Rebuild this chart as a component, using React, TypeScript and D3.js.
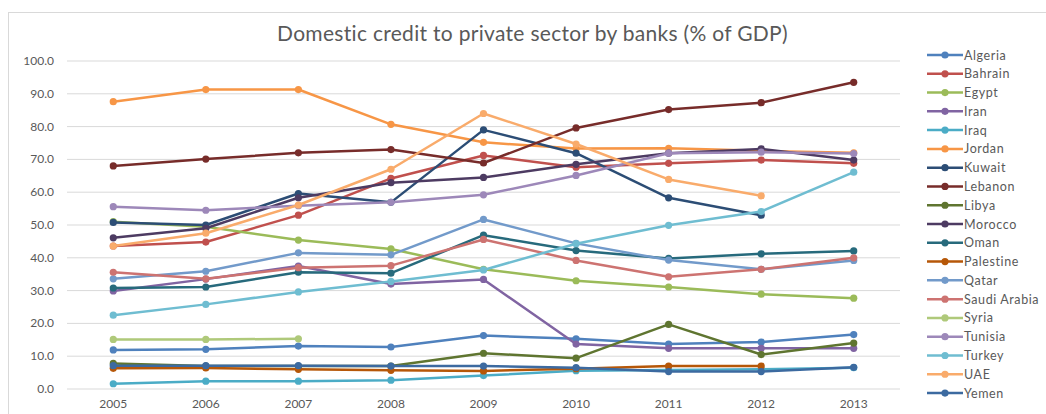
import React from "react";
import * as d3 from "d3";

const years = ["2005", "2006", "2007", "2008", "2009", "2010", "2011", "2012", "2013"];
const yTicks = [0, 10, 20, 30, 40, 50, 60, 70, 80, 90, 100];
const title = "Domestic credit to private sector by banks (% of GDP)";

const countries = ["Algeria", "Bahrain", "Egypt", "Iran", "Iraq", "Jordan", "Kuwait", "Lebanon", "Libya", "Morocco", "Oman", "Palestine", "Qatar", "Saudi Arabia", "Syria", "Tunisia", "Turkey", "UAE", "Yemen"];

const colors = ["#4F81BD", "#C0504D", "#9BBB59", "#8064A2", "#4BACC6", "#F79646", "#2C4D75", "#772C2A", "#5F7530", "#4D3B62", "#276A7C", "#B65708", "#729ACA", "#CD7371", "#AFC97A", "#9D88B9", "#6FBDD1", "#F9AB6B", "#3C6AA0"];

type V = number | null;
const algeria: V[] = [11.9, 12.1, 13.1, 12.8, 16.3, 15.3, 13.7, 14.3, 16.6];
const bahrain: V[] = [43.6, 44.8, 53.0, 64.2, 71.2, 67.6, 68.8, 69.8, 68.8];
const egypt: V[] = [51.0, 49.5, 45.4, 42.7, 36.5, 33.0, 31.1, 28.9, 27.7];
const iran: V[] = [29.9, 33.5, 37.5, 32.0, 33.4, 13.7, 12.4, 12.4, 12.4];
const iraq: V[] = [1.6, 2.4, 2.4, 2.7, 4.1, 5.6, 5.8, 6.0, 6.5];
const jordan: V[] = [87.6, 91.3, 91.3, 80.7, 75.2, 73.3, 73.4, 72.6, 72.0];
const kuwait: V[] = [50.8, 50.0, 59.6, 56.9, 79.0, 71.9, 58.3, 53.0, null];
const lebanon: V[] = [68.0, 70.1, 72.0, 73.0, 68.9, 79.6, 85.2, 87.3, 93.5];
const libya: V[] = [7.8, 7.0, 7.0, 7.0, 10.9, 9.4, 19.7, 10.5, 14.0];
const morocco: V[] = [46.1, 49.0, 58.3, 62.9, 64.5, 68.5, 71.9, 73.2, 69.8];
const oman: V[] = [30.8, 31.1, 35.6, 35.3, 46.9, 42.2, 39.8, 41.2, 42.1];
const palestine: V[] = [6.3, 6.4, 6.0, 5.7, 5.5, 6.2, 7.0, 7.0, null];
const qatar: V[] = [33.6, 35.9, 41.5, 40.9, 51.7, 44.4, 39.3, 36.5, 39.2];
const saudi: V[] = [35.6, 33.6, 37.0, 37.6, 45.6, 39.2, 34.2, 36.5, 40.0];
const syria: V[] = [15.1, 15.1, 15.3, null, null, null, null, null, null];
const tunisia: V[] = [55.6, 54.5, 55.9, 56.9, 59.2, 65.1, 71.9, 72.2, 71.8];
const turkey: V[] = [22.5, 25.8, 29.6, 32.8, 36.3, 44.3, 49.9, 54.1, 66.1];
const uae: V[] = [43.6, 47.5, 56.1, 67.0, 84.0, 74.7, 63.9, 58.9, null];
const yemen: V[] = [7.1, 7.1, 7.1, 7.0, 7.0, 6.5, 5.3, 5.3, 6.6];

const seriesValues: V[][] = [algeria, bahrain, egypt, iran, iraq, jordan, kuwait, lebanon, libya, morocco, oman, palestine, qatar, saudi, syria, tunisia, turkey, uae, yemen];

const W = 1046;
const H = 414;
const plotLeft = 67;
const plotRight = 900;
const plotTop = 61;
const plotBottom = 389;
const font = "Lato, 'Open Sans', sans-serif";
const textColor = "#595959";

export default function App() {
  const x = d3.scaleBand<string>().domain(years).range([plotLeft, plotRight]);
  const cx = (yr: string) => (x(yr) ?? 0) + x.bandwidth() / 2;
  const y = d3.scaleLinear().domain([0, 100]).range([plotBottom, plotTop]);

  const line = d3
    .line<V>()
    .defined((d) => d !== null)
    .x((_, i) => cx(years[i]))
    .y((d) => y(d as number));

  const legendX = 927;
  const legendY0 = 55;
  const legendStep = 18.78;

  return (
    <svg width={W} height={H} style={{ position: "absolute", left: 0, top: 0, background: "#fff" }}>
      <rect x={8.5} y={12.5} width={1100} height={500} fill="#fff" stroke="#d9d9d9" strokeWidth={1} />
      <text x={532.5} y={40.5} textAnchor="middle" fontFamily={font} fontSize={21} letterSpacing={0.3} fill={textColor}>
        {title}
      </text>
      {yTicks.map((t) => (
        <g key={t}>
          <line x1={plotLeft} x2={plotRight} y1={y(t)} y2={y(t)} stroke="#d9d9d9" strokeWidth={1} />
          <text x={54} y={y(t) + 4} textAnchor="end" fontFamily={font} fontSize={12} fill={textColor}>
            {t.toFixed(1)}
          </text>
        </g>
      ))}
      {years.map((yr) => (
        <text key={yr} x={cx(yr)} y={408} textAnchor="middle" fontFamily={font} fontSize={12} fill={textColor}>
          {yr}
        </text>
      ))}
      {seriesValues.map((vals, si) => (
        <g key={countries[si]}>
          <path d={line(vals) ?? ""} fill="none" stroke={colors[si]} strokeWidth={2.5} strokeLinejoin="round" />
          {vals.map((v, i) =>
            v === null ? null : <circle key={i} cx={cx(years[i])} cy={y(v)} r={3.6} fill={colors[si]} />
          )}
        </g>
      ))}
      {countries.map((c, i) => {
        const ly = legendY0 + i * legendStep;
        return (
          <g key={c}>
            <line x1={legendX} x2={legendX + 36} y1={ly} y2={ly} stroke={colors[i]} strokeWidth={2.5} />
            <circle cx={legendX + 18} cy={ly} r={3.6} fill={colors[i]} />
            <text x={legendX + 37} y={ly + 4.5} fontFamily={font} fontSize={12.5} letterSpacing={0.6} fill={textColor}>
              {c}
            </text>
          </g>
        );
      })}
    </svg>
  );
}
